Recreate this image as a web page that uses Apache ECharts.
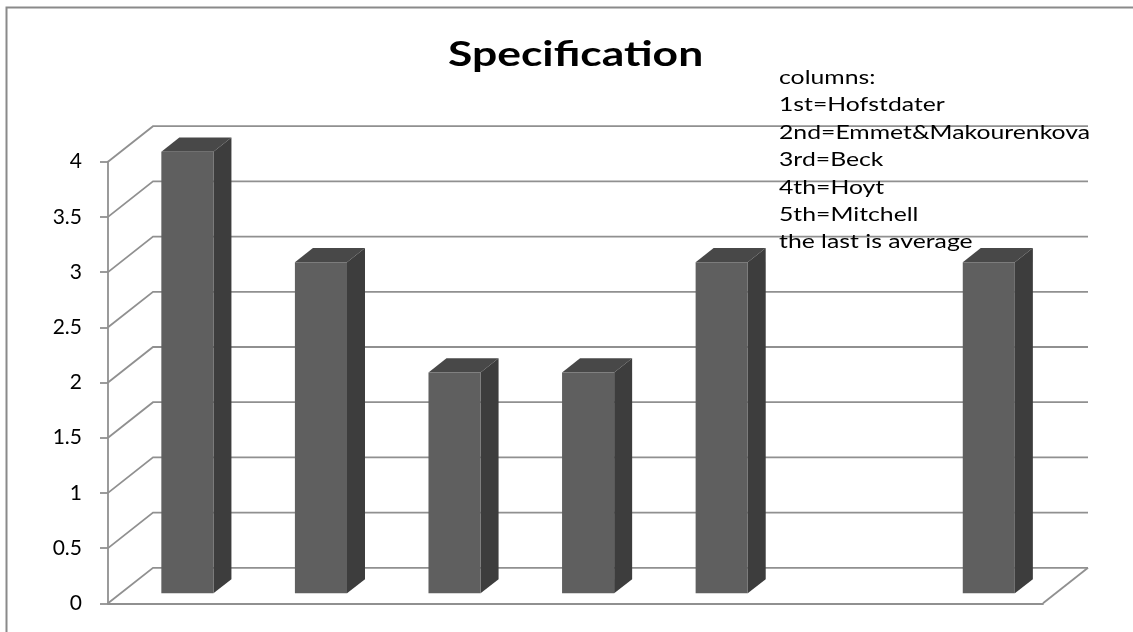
<!DOCTYPE html>
<html>
<head>
<meta charset="utf-8">
<title>Specification</title>
<script src="https://cdn.jsdelivr.net/npm/echarts@6/dist/echarts.min.js"></script>
<style>
  html, body { margin: 0; padding: 0; background: #ffffff; }
  #chart { width: 1133px; height: 632px; }
</style>
</head>
<body>
<div id="chart"></div>
<script>
// Column names (the sixth slot is an intentional gap before the average column)
var categories = ['Hofstdater', 'Emmet&Makourenkova', 'Beck', 'Hoyt', 'Mitchell', '', 'average'];
// Scores per column
var scores = [4, 3, 2, 2, 3, null, 3];
// Value-axis ticks
var tickValues = [0, 0.5, 1, 1.5, 2, 2.5, 3, 3.5, 4];
// Legend note lines
var noteLines = ['columns:', '1st=Hofstdater', '2nd=Emmet&Makourenkova', '3rd=Beck', '4th=Hoyt', '5th=Mitchell', 'the last is average'];
var chartTitle = 'Specification';

// Oblique projection of the depth axis (pixels for the full floor depth)
var DEPTH_X = 45, DEPTH_Y = -35.5;
// Bars sit between these fractions of the floor depth
var BAR_FRONT = 0.28, BAR_BACK = 0.68;
var BAR_RATIO = 0.39;
var GRID_COLOR = '#909090';
// Horizontal stretch giving the text a wide, Calibri-like set
var TEXT_STRETCH = 1.27;

var chart = echarts.init(document.getElementById('chart'), null, { renderer: 'canvas' });

function renderWalls(params, api) {
  var cs = params.coordSys;
  var v = api.value(0);
  var y = api.coord([0, v])[1];
  var left = cs.x, right = cs.x + cs.width;
  var pts = [[left, y], [left + DEPTH_X, y + DEPTH_Y], [right + DEPTH_X, y + DEPTH_Y]];
  var children = [{
    type: 'polyline',
    shape: { points: pts },
    style: { stroke: GRID_COLOR, lineWidth: 1.8, fill: null }
  }];
  if (v === 0) {
    children.push({
      type: 'line',
      shape: { x1: right, y1: y, x2: right + DEPTH_X, y2: y + DEPTH_Y },
      style: { stroke: GRID_COLOR, lineWidth: 1.8 }
    });
  }
  return { type: 'group', children: children };
}

function renderBar(params, api) {
  var v = api.value(1);
  if (v == null || isNaN(v)) return null;
  var idx = api.value(0);
  var top = api.coord([idx, v]);
  var base = api.coord([idx, 0]);
  var band = api.size([1, 0])[0];
  var w = band * BAR_RATIO;
  var fx = BAR_FRONT * DEPTH_X, fy = BAR_FRONT * DEPTH_Y;
  var dx = (BAR_BACK - BAR_FRONT) * DEPTH_X, dy = (BAR_BACK - BAR_FRONT) * DEPTH_Y;
  var x0 = top[0] - w / 2 + fx, x1 = top[0] + w / 2 + fx;
  var yt = top[1] + fy, yb = base[1] + fy;
  return {
    type: 'group',
    children: [
      { // top face
        type: 'polygon',
        shape: { points: [[x0, yt], [x1, yt], [x1 + dx, yt + dy], [x0 + dx, yt + dy]] },
        style: { fill: '#484848' }
      },
      { // right side face
        type: 'polygon',
        shape: { points: [[x1, yt], [x1 + dx, yt + dy], [x1 + dx, yb + dy], [x1, yb]] },
        style: { fill: '#3d3d3d' }
      },
      { // front face
        type: 'rect',
        shape: { x: x0, y: yt, width: x1 - x0, height: yb - yt },
        style: { fill: '#5f5f5f' }
      }
    ]
  };
}

var option = {
  animation: false,
  backgroundColor: '#ffffff',
  grid: { left: 108, right: 90, top: 161.7, bottom: 28.7, containLabel: false },
  xAxis: {
    type: 'category',
    data: categories,
    axisLine: { show: true, lineStyle: { color: GRID_COLOR, width: 1.8 } },
    axisTick: { show: false },
    axisLabel: { show: false },
    splitLine: { show: false }
  },
  yAxis: {
    type: 'value',
    min: 0,
    max: 4,
    interval: 0.5,
    axisLine: { show: true, lineStyle: { color: GRID_COLOR, width: 1.8 } },
    axisTick: { show: true, length: 8, lineStyle: { color: GRID_COLOR, width: 1.8 } },
    axisLabel: { fontFamily: 'Lato', fontSize: 21, color: '#000000', margin: 26 },
    splitLine: { show: false }
  },
  graphic: [
    { // chart frame
      type: 'rect',
      silent: true,
      shape: { x: 6.5, y: 7.5, width: 1200, height: 700 },
      style: { fill: null, stroke: '#8a8a8a', lineWidth: 2 }
    },
    { // chart title
      type: 'text',
      x: 448,
      y: 37,
      scaleX: TEXT_STRETCH,
      z: 10,
      style: {
        text: chartTitle,
        font: 'bold 35px Lato',
        fill: '#000000',
        textAlign: 'left',
        textVerticalAlign: 'top'
      }
    },
    { // column key
      type: 'text',
      x: 779,
      y: 64,
      scaleX: TEXT_STRETCH,
      z: 10,
      style: {
        text: noteLines.join('\n'),
        font: '19.5px Lato',
        lineHeight: 27.4,
        fill: '#000000',
        textAlign: 'left',
        textVerticalAlign: 'top'
      }
    }
  ],
  series: [
    {
      type: 'custom',
      name: 'walls',
      renderItem: renderWalls,
      data: tickValues.map(function (t) { return [t]; }),
      encode: { y: 0 },
      silent: true,
      z: 1
    },
    {
      type: 'custom',
      name: chartTitle,
      renderItem: renderBar,
      data: scores.map(function (s, i) { return [i, s == null ? '-' : s]; }),
      encode: { x: 0, y: 1 },
      z: 2
    }
  ]
};

chart.setOption(option);
</script>
</body>
</html>
